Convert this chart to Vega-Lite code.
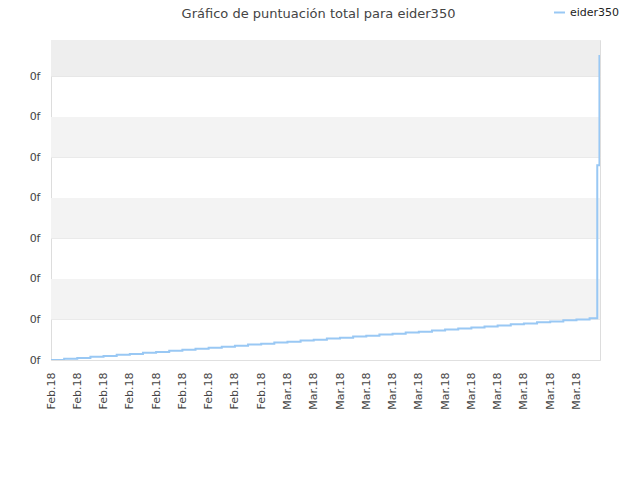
{
  "$schema": "https://vega.github.io/schema/vega-lite/v6.json",
  "width": 549,
  "height": 320,
  "autosize": "none",
  "padding": {"left": 51, "top": 40, "right": 40, "bottom": 120},
  "background": "white",
  "title": {
    "text": "Gráfico de puntuación total para eider350",
    "font": "DejaVu Sans",
    "fontSize": 13,
    "fontWeight": "normal",
    "color": "#444444",
    "anchor": "middle",
    "frame": "group",
    "dx": -7,
    "offset": -15
  },
  "datasets": {
    "bands": [
      {"lo": 100, "hi": 200},
      {"lo": 300, "hi": 400},
      {"lo": 500, "hi": 600},
      {"lo": 700, "hi": 790}
    ],
    "scores": [
      {"date": "2018-02-12T00:00:00", "player": "eider350", "score": 0},
      {"date": "2018-02-13T00:00:00", "player": "eider350", "score": 3},
      {"date": "2018-02-14T00:00:00", "player": "eider350", "score": 5},
      {"date": "2018-02-15T00:00:00", "player": "eider350", "score": 8},
      {"date": "2018-02-16T00:00:00", "player": "eider350", "score": 10},
      {"date": "2018-02-17T00:00:00", "player": "eider350", "score": 13},
      {"date": "2018-02-18T00:00:00", "player": "eider350", "score": 15},
      {"date": "2018-02-19T00:00:00", "player": "eider350", "score": 18},
      {"date": "2018-02-20T00:00:00", "player": "eider350", "score": 20},
      {"date": "2018-02-21T00:00:00", "player": "eider350", "score": 23},
      {"date": "2018-02-22T00:00:00", "player": "eider350", "score": 25},
      {"date": "2018-02-23T00:00:00", "player": "eider350", "score": 28},
      {"date": "2018-02-24T00:00:00", "player": "eider350", "score": 30},
      {"date": "2018-02-25T00:00:00", "player": "eider350", "score": 33},
      {"date": "2018-02-26T00:00:00", "player": "eider350", "score": 35},
      {"date": "2018-02-27T00:00:00", "player": "eider350", "score": 38},
      {"date": "2018-02-28T00:00:00", "player": "eider350", "score": 40},
      {"date": "2018-03-01T00:00:00", "player": "eider350", "score": 43},
      {"date": "2018-03-02T00:00:00", "player": "eider350", "score": 45},
      {"date": "2018-03-03T00:00:00", "player": "eider350", "score": 48},
      {"date": "2018-03-04T00:00:00", "player": "eider350", "score": 50},
      {"date": "2018-03-05T00:00:00", "player": "eider350", "score": 53},
      {"date": "2018-03-06T00:00:00", "player": "eider350", "score": 55},
      {"date": "2018-03-07T00:00:00", "player": "eider350", "score": 58},
      {"date": "2018-03-08T00:00:00", "player": "eider350", "score": 60},
      {"date": "2018-03-09T00:00:00", "player": "eider350", "score": 63},
      {"date": "2018-03-10T00:00:00", "player": "eider350", "score": 65},
      {"date": "2018-03-11T00:00:00", "player": "eider350", "score": 68},
      {"date": "2018-03-12T00:00:00", "player": "eider350", "score": 70},
      {"date": "2018-03-13T00:00:00", "player": "eider350", "score": 73},
      {"date": "2018-03-14T00:00:00", "player": "eider350", "score": 75},
      {"date": "2018-03-15T00:00:00", "player": "eider350", "score": 78},
      {"date": "2018-03-16T00:00:00", "player": "eider350", "score": 80},
      {"date": "2018-03-17T00:00:00", "player": "eider350", "score": 83},
      {"date": "2018-03-18T00:00:00", "player": "eider350", "score": 85},
      {"date": "2018-03-19T00:00:00", "player": "eider350", "score": 88},
      {"date": "2018-03-20T00:00:00", "player": "eider350", "score": 90},
      {"date": "2018-03-21T00:00:00", "player": "eider350", "score": 93},
      {"date": "2018-03-22T00:00:00", "player": "eider350", "score": 95},
      {"date": "2018-03-23T00:00:00", "player": "eider350", "score": 98},
      {"date": "2018-03-24T00:00:00", "player": "eider350", "score": 100},
      {"date": "2018-03-25T00:00:00", "player": "eider350", "score": 103},
      {"date": "2018-03-25T14:00:00", "player": "eider350", "score": 481},
      {"date": "2018-03-25T18:00:00", "player": "eider350", "score": 753}
    ]
  },
  "layer": [
    {
      "data": {"name": "bands"},
      "mark": {"type": "rect", "strokeWidth": 0},
      "encoding": {
        "y": {"field": "lo", "type": "quantitative", "scale": {"domain": [0, 790], "nice": false}},
        "y2": {"field": "hi"},
        "color": {
          "condition": {"test": "datum.lo >= 700", "value": "#eeeeee"},
          "value": "#f3f3f3"
        }
      }
    },
    {
      "data": {"name": "scores"},
      "mark": {"type": "line", "interpolate": "step-after", "strokeWidth": 2, "clip": true},
      "encoding": {
        "x": {
          "field": "date",
          "type": "temporal",
          "scale": {"domain": ["2018-02-12T00:00:00", "2018-03-25T19:00:00"], "nice": false},
          "axis": {
            "title": null,
            "format": "%b.%y",
            "values": [
              "2018-02-12T00:00:00", "2018-02-14T00:00:00", "2018-02-16T00:00:00",
              "2018-02-18T00:00:00", "2018-02-20T00:00:00", "2018-02-22T00:00:00",
              "2018-02-24T00:00:00", "2018-02-26T00:00:00", "2018-02-28T00:00:00",
              "2018-03-02T00:00:00", "2018-03-04T00:00:00", "2018-03-06T00:00:00",
              "2018-03-08T00:00:00", "2018-03-10T00:00:00", "2018-03-12T00:00:00",
              "2018-03-14T00:00:00", "2018-03-16T00:00:00", "2018-03-18T00:00:00",
              "2018-03-20T00:00:00", "2018-03-22T00:00:00", "2018-03-24T00:00:00"
            ],
            "labelAngle": 270,
            "labelAlign": "right",
            "labelBaseline": "middle",
            "labelPadding": 12,
            "labelOverlap": false,
            "ticks": false,
            "grid": false,
            "domain": false
          }
        },
        "y": {
          "field": "score",
          "type": "quantitative",
          "scale": {"domain": [0, 790], "nice": false},
          "axis": {
            "title": null,
            "values": [0, 100, 200, 300, 400, 500, 600, 700],
            "labelExpr": "'0f'",
            "ticks": false,
            "domain": false,
            "grid": true,
            "gridColor": "#e0e0e0",
            "labelPadding": 11
          }
        },
        "color": {
          "field": "player",
          "type": "nominal",
          "scale": {"range": ["#99c8f4"]},
          "legend": {
            "title": null,
            "orient": "none",
            "legendX": 502,
            "legendY": -34,
            "symbolType": "stroke",
            "symbolSize": 120,
            "symbolStrokeWidth": 2,
            "labelFont": "DejaVu Sans",
            "labelFontSize": 11,
            "labelColor": "#222222"
          }
        }
      }
    }
  ],
  "config": {
    "view": {"stroke": "#dddddd", "strokeWidth": 1},
    "axis": {
      "labelFont": "DejaVu Sans",
      "labelFontSize": 11,
      "labelColor": "#444444"
    }
  }
}
